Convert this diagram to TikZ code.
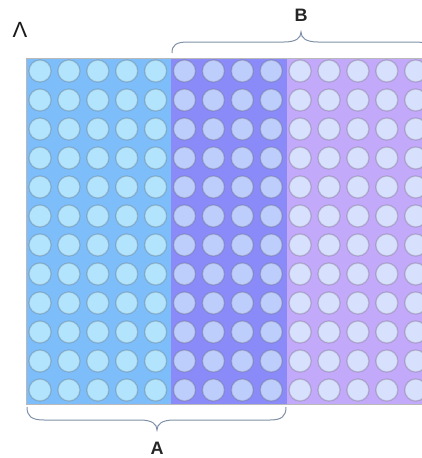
\documentclass[tikz,border=0pt]{standalone}
\usepackage{fontspec}
\setmainfont{Liberation Sans}
\begin{document}
\begin{tikzpicture}[x=1pt,y=-1pt,
  dot/.style={circle,minimum size=22pt,inner sep=0pt,fill=#1,draw=black!60,draw opacity=0.3,line width=1.3pt},
  brc/.style={draw=braceC,line width=1pt},
  lbl/.style={font=\bfseries\fontsize{18}{18}\selectfont,text=black!85}]
\definecolor{bgA}{HTML}{7DBEFA}
\definecolor{bgB}{HTML}{8A8BF8}
\definecolor{bgC}{HTML}{C3A9F9}
\definecolor{dA}{HTML}{B2E5FD}
\definecolor{dB}{HTML}{BDCDFC}
\definecolor{dC}{HTML}{D7E0FD}
\definecolor{braceC}{HTML}{8090A8}
\useasboundingbox (0,0) rectangle (422,458);
\begin{scope}
\clip (0,0) rectangle (422,458);
\fill[bgA] (26,58) rectangle (171,404);
\fill[bgB] (171,58) rectangle (287,404);
\fill[bgC] (287,58) rectangle (430,404);
\draw[gray!55,line width=1pt] (430,58) -- (26,58) -- (26,404) -- (430,404);
\foreach \c in {0,...,13}{
  \foreach \r in {0,...,11}{
    \pgfmathsetmacro{\xx}{40+28.9*\c}
    \pgfmathsetmacro{\yy}{71+29*\r}
    \ifnum\c<5
      \node[dot=dA] (d-\c-\r) at (\xx,\yy) {};
    \else\ifnum\c<9
      \node[dot=dB] (d-\c-\r) at (\xx,\yy) {};
    \else
      \node[dot=dC] (d-\c-\r) at (\xx,\yy) {};
    \fi\fi
  }
}
% brace B
\draw[brc] (172,53) .. controls (172,45) and (176,42) .. (188,42) -- (284,42)
  .. controls (296,42) and (301,38) .. (301,32)
  .. controls (301,38) and (306,42) .. (318,42) -- (415,42)
  .. controls (427,42) and (431,45) .. (431,53);
\end{scope}
% brace A
\draw[brc] (27,407) .. controls (27,416) and (31,420) .. (44,420) -- (140,420)
  .. controls (152,420) and (157,424) .. (157,430)
  .. controls (157,424) and (162,420) .. (174,420) -- (270,420)
  .. controls (282,420) and (286,416) .. (286,407);
\node[lbl] (B) at (301,15) {B};
\node[lbl] (A) at (157,448) {A};
\node[font=\fontsize{22}{22}\selectfont,text=black!90] (L) at (20,30) {Λ};
\end{tikzpicture}
\end{document}
